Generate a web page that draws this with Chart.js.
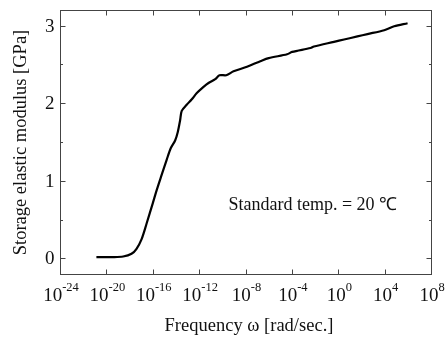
<!DOCTYPE html>
<html><head><meta charset="utf-8">
<script src="https://cdn.jsdelivr.net/npm/chart.js@4/dist/chart.umd.min.js"></script>
<style>html,body{margin:0;padding:0;background:#fff}#wrap{width:446px;height:340px}</style>
</head><body><div id="wrap"><canvas id="c"></canvas></div>
<script>
const logFreq = [-20.86,-19.5,-18.55,-17.83,-17.4,-16.96,-16.53,-16.0,-15.66,-15.29,-14.8,-14.45,-14.07,-13.84,-13.64,-13.5,-13.07,-12.63,-12.2,-11.62,-11.19,-10.61,-10.24,-9.66,-9.03,-7.87,-6.72,-6.0,-4.41,-3.98,-2.39,-2.1,-0.37,0.5,1.65,2.52,3.96,4.82,5.98];
const modulus = [0.017,0.018,0.025,0.06,0.125,0.25,0.45,0.71,0.88,1.05,1.27,1.42,1.52,1.63,1.78,1.90,1.98,2.05,2.13,2.21,2.26,2.31,2.36,2.36,2.41,2.47,2.54,2.58,2.63,2.66,2.71,2.73,2.79,2.82,2.86,2.89,2.94,2.99,3.03];
const xExponents = [-24,-20,-16,-12,-8,-4,0,4,8];
const yMajor = [0,1,2,3];
const yMinor = [0.5,1.5,2.5];
const annotation = 'Standard temp. = 20 \u2103';
const xTitle = 'Frequency \u03c9 [rad/sec.]';
const yTitle = 'Storage elastic modulus [GPa]';

const points = logFreq.map((l,i)=>({x:Math.pow(10,l), y:modulus[i]}));
const FONT = '"Liberation Serif", "Times New Roman", serif';

const frame = {
  id:'frame',
  afterDraw(chart){
    const {ctx, chartArea:a, scales:{x,y}} = chart;
    ctx.save();
    ctx.strokeStyle='#444'; ctx.lineWidth=1;
    const L=Math.round(a.left)+0.5, R=Math.round(a.right)+0.5, T=Math.round(a.top)+0.5, B=Math.round(a.bottom)+0.5;
    ctx.strokeRect(L,T,R-L,B-T);
    ctx.beginPath();
    xExponents.forEach(e=>{
      const px=Math.round(x.getPixelForValue(Math.pow(10,e)))+0.5;
      if(px<=L+1||px>=R-1) return;
      ctx.moveTo(px,B); ctx.lineTo(px,B-5);
      ctx.moveTo(px,T); ctx.lineTo(px,T+5);
    });
    yMajor.forEach(v=>{
      const py=Math.round(y.getPixelForValue(v))+0.5;
      ctx.moveTo(L,py); ctx.lineTo(L+5,py);
      ctx.moveTo(R,py); ctx.lineTo(R-5,py);
    });
    yMinor.forEach(v=>{
      const py=Math.round(y.getPixelForValue(v))+0.5;
      ctx.moveTo(L,py); ctx.lineTo(L+2.5,py);
      ctx.moveTo(R,py); ctx.lineTo(R-2.5,py);
    });
    ctx.stroke();
    ctx.fillStyle='#111';
    ctx.textBaseline='alphabetic';
    xExponents.forEach(e=>{
      const px=x.getPixelForValue(Math.pow(10,e));
      ctx.font='19px '+FONT;
      const baseW=ctx.measureText('10').width;
      ctx.font='12.5px '+FONT;
      const expW=ctx.measureText(String(e)).width;
      const total=baseW+expW;
      const sx=px-total/2+1;
      ctx.font='19px '+FONT;
      ctx.textAlign='left';
      ctx.fillText('10',sx,B+26);
      ctx.font='12.5px '+FONT;
      ctx.fillText(String(e),sx+baseW,B+16);
    });
    ctx.font='19px '+FONT;
    ctx.textAlign='right';
    yMajor.forEach(v=>{
      const py=y.getPixelForValue(v);
      ctx.fillText(String(v),L-6,py+6);
    });
    ctx.textAlign='center';
    ctx.font='18.5px '+FONT;
    ctx.fillText(xTitle,(L+R)/2+3,B+56);
    ctx.save();
    ctx.translate(26,(T+B)/2);
    ctx.rotate(-Math.PI/2);
    ctx.fillText(yTitle,0,0);
    ctx.restore();
    ctx.textAlign='left';
    ctx.font='18px '+FONT;
    ctx.fillText(annotation, x.getPixelForValue(Math.pow(10,-9.47)), y.getPixelForValue(0.62));
    ctx.restore();
  }
};

new Chart(document.getElementById('c'),{
  type:'line',
  data:{datasets:[{data:points,borderColor:'#000',borderWidth:2.2,pointRadius:0,tension:0.3,fill:false}]},
  options:{
    responsive:true, maintainAspectRatio:false, animation:false,
    layout:{padding:{top:10,right:15,left:0,bottom:0}},
    plugins:{legend:{display:false},tooltip:{enabled:false}},
    scales:{
      x:{type:'logarithmic',min:1e-24,max:1e8,
        grid:{display:false},border:{display:false},
        ticks:{display:false},
        afterBuildTicks(s){s.ticks=xExponents.map(e=>({value:Math.pow(10,e)}));},
        afterFit(s){s.height=66;}},
      y:{type:'linear',min:-0.2,max:3.2,
        grid:{display:false},border:{display:false},
        ticks:{display:false},
        afterFit(s){s.width=60;}}
    }
  },
  plugins:[frame]
});
</script></body></html>
